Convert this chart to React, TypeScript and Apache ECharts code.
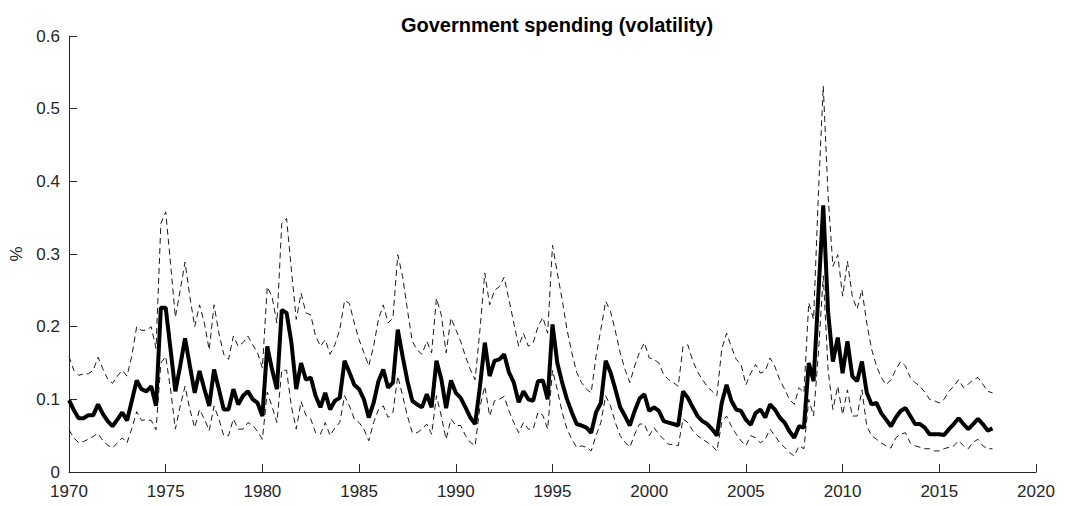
import React, { useEffect, useRef } from "react";
import * as echarts from "echarts";

// Quarterly estimates, 1970Q1 onward
const startYear = 1970;

const median = [
  0.099, 0.085, 0.074, 0.074, 0.078, 0.078, 0.093, 0.080,
  0.070, 0.063, 0.072, 0.082, 0.071, 0.098, 0.126, 0.114,
  0.111, 0.118, 0.091, 0.226, 0.226, 0.169, 0.111, 0.146,
  0.184, 0.146, 0.109, 0.139, 0.114, 0.091, 0.141, 0.114,
  0.086, 0.086, 0.114, 0.093, 0.105, 0.111, 0.100, 0.095,
  0.077, 0.173, 0.141, 0.114, 0.223, 0.219, 0.178, 0.114,
  0.150, 0.127, 0.130, 0.105, 0.089, 0.109, 0.086, 0.098,
  0.102, 0.153, 0.137, 0.120, 0.114, 0.100, 0.075, 0.095,
  0.125, 0.141, 0.116, 0.123, 0.196, 0.159, 0.125, 0.098,
  0.093, 0.089, 0.107, 0.089, 0.153, 0.128, 0.088, 0.126,
  0.109, 0.102, 0.089, 0.075, 0.066, 0.118, 0.178, 0.132,
  0.153, 0.155, 0.162, 0.137, 0.123, 0.096, 0.111, 0.100,
  0.098, 0.125, 0.126, 0.100, 0.203, 0.150, 0.123, 0.100,
  0.082, 0.066, 0.064, 0.061, 0.054, 0.082, 0.095, 0.153,
  0.137, 0.114, 0.089, 0.077, 0.064, 0.084, 0.101, 0.107,
  0.084, 0.089, 0.084, 0.070, 0.068, 0.066, 0.064, 0.111,
  0.102, 0.089, 0.077, 0.070, 0.066, 0.059, 0.050, 0.095,
  0.120, 0.098, 0.086, 0.084, 0.072, 0.065, 0.081, 0.086,
  0.075, 0.093, 0.086, 0.075, 0.068, 0.056, 0.047, 0.063,
  0.061, 0.150, 0.125, 0.246, 0.367, 0.220, 0.152, 0.185,
  0.136, 0.180, 0.132, 0.125, 0.152, 0.109, 0.093, 0.095,
  0.081, 0.072, 0.063, 0.075, 0.084, 0.088, 0.077, 0.066,
  0.066, 0.061, 0.052, 0.052, 0.052, 0.051, 0.059, 0.066,
  0.074, 0.066, 0.059, 0.066, 0.073, 0.066, 0.057, 0.060,
];

const upperBand = [
  0.159, 0.140, 0.133, 0.135, 0.135, 0.140, 0.158, 0.142,
  0.128, 0.122, 0.132, 0.140, 0.132, 0.160, 0.200, 0.195,
  0.195, 0.200, 0.170, 0.342, 0.358, 0.287, 0.213, 0.250,
  0.289, 0.241, 0.200, 0.230, 0.205, 0.168, 0.230, 0.191,
  0.162, 0.155, 0.187, 0.173, 0.178, 0.187, 0.175, 0.164,
  0.143, 0.255, 0.241, 0.205, 0.342, 0.349, 0.278, 0.210,
  0.246, 0.219, 0.216, 0.187, 0.173, 0.182, 0.162, 0.175,
  0.196, 0.236, 0.232, 0.205, 0.182, 0.164, 0.146, 0.173,
  0.210, 0.230, 0.205, 0.212, 0.299, 0.269, 0.223, 0.180,
  0.168, 0.162, 0.180, 0.164, 0.239, 0.216, 0.164, 0.212,
  0.196, 0.180, 0.159, 0.141, 0.127, 0.196, 0.274, 0.230,
  0.250, 0.255, 0.268, 0.237, 0.205, 0.173, 0.191, 0.173,
  0.178, 0.200, 0.213, 0.191, 0.312, 0.274, 0.237, 0.196,
  0.164, 0.137, 0.123, 0.114, 0.109, 0.159, 0.196, 0.235,
  0.221, 0.194, 0.164, 0.141, 0.123, 0.146, 0.165, 0.178,
  0.157, 0.155, 0.150, 0.134, 0.127, 0.123, 0.118, 0.173,
  0.175, 0.153, 0.138, 0.127, 0.118, 0.111, 0.105, 0.169,
  0.191, 0.172, 0.155, 0.148, 0.120, 0.136, 0.148, 0.136,
  0.139, 0.157, 0.145, 0.127, 0.114, 0.100, 0.093, 0.116,
  0.109, 0.233, 0.210, 0.384, 0.531, 0.380, 0.283, 0.299,
  0.242, 0.290, 0.242, 0.224, 0.251, 0.205, 0.169, 0.146,
  0.130, 0.120, 0.127, 0.141, 0.152, 0.146, 0.130, 0.123,
  0.118, 0.110, 0.100, 0.098, 0.095, 0.100, 0.111, 0.118,
  0.127, 0.116, 0.121, 0.127, 0.130, 0.121, 0.111, 0.109,
];

const lowerBand = [
  0.058, 0.047, 0.040, 0.042, 0.045, 0.049, 0.053, 0.043,
  0.037, 0.033, 0.040, 0.047, 0.040, 0.060, 0.083, 0.071,
  0.072, 0.071, 0.058, 0.150, 0.159, 0.114, 0.059, 0.091,
  0.118, 0.086, 0.061, 0.086, 0.073, 0.057, 0.091, 0.073,
  0.050, 0.050, 0.073, 0.059, 0.059, 0.068, 0.064, 0.056,
  0.045, 0.110, 0.090, 0.068, 0.140, 0.140, 0.090, 0.059,
  0.097, 0.078, 0.073, 0.054, 0.052, 0.068, 0.050, 0.061,
  0.068, 0.105, 0.091, 0.073, 0.068, 0.059, 0.043, 0.068,
  0.086, 0.091, 0.075, 0.082, 0.132, 0.105, 0.077, 0.054,
  0.054, 0.059, 0.066, 0.052, 0.105, 0.077, 0.045, 0.073,
  0.064, 0.064, 0.050, 0.041, 0.036, 0.090, 0.118, 0.077,
  0.098, 0.100, 0.104, 0.084, 0.068, 0.054, 0.068, 0.059,
  0.059, 0.082, 0.078, 0.059, 0.140, 0.113, 0.082, 0.059,
  0.045, 0.034, 0.036, 0.034, 0.029, 0.050, 0.068, 0.105,
  0.091, 0.068, 0.050, 0.041, 0.034, 0.052, 0.066, 0.066,
  0.050, 0.061, 0.052, 0.045, 0.038, 0.038, 0.036, 0.073,
  0.068, 0.057, 0.050, 0.045, 0.041, 0.036, 0.029, 0.068,
  0.077, 0.063, 0.052, 0.043, 0.036, 0.050, 0.047, 0.040,
  0.045, 0.059, 0.050, 0.040, 0.034, 0.027, 0.022, 0.036,
  0.032, 0.100, 0.077, 0.164, 0.270, 0.140, 0.086, 0.118,
  0.079, 0.113, 0.077, 0.077, 0.113, 0.063, 0.050, 0.045,
  0.040, 0.036, 0.033, 0.047, 0.052, 0.054, 0.040, 0.036,
  0.034, 0.032, 0.032, 0.029, 0.029, 0.032, 0.034, 0.036,
  0.043, 0.036, 0.032, 0.041, 0.045, 0.036, 0.032, 0.032,
];

const FONT = '"Liberation Sans", Arial, Helvetica, sans-serif';
const AXIS_COLOR = "#262626";

const toPairs = (vals: number[]) =>
  vals.map((v, i) => [startYear + i * 0.25, v]);

export default function App() {
  const ref = useRef<HTMLDivElement>(null);

  useEffect(() => {
    if (!ref.current) return;
    const chart = echarts.init(ref.current, undefined, { renderer: "svg" });

    const dashed = {
      type: "line",
      showSymbol: false,
      symbol: "none",
      lineStyle: { color: "#1a1a1a", width: 1, type: [6, 4] },
      z: 2,
    };

    chart.setOption({
      animation: false,
      backgroundColor: "#ffffff",
      title: {
        text: "Government spending (volatility)",
        left: 552,
        textAlign: "center",
        top: 10,
        textStyle: {
          fontFamily: FONT,
          fontSize: 20,
          fontWeight: "bold",
          color: "#000",
        },
      },
      grid: {
        left: 69,
        right: 29,
        top: 36,
        bottom: 34,
        containLabel: false,
        outerBoundsMode: "none",
      },
      xAxis: {
        type: "value",
        min: 1970,
        max: 2020,
        interval: 5,
        axisLine: { show: true, lineStyle: { color: AXIS_COLOR, width: 1 } },
        axisTick: { show: true, inside: true, length: 8, lineStyle: { color: AXIS_COLOR } },
        axisLabel: {
          color: AXIS_COLOR,
          fontFamily: FONT,
          fontSize: 17,
          margin: 11,
          formatter: (v: number) => String(Math.round(v)),
        },
        splitLine: { show: false },
      },
      yAxis: {
        type: "value",
        min: 0,
        max: 0.6,
        interval: 0.1,
        name: "%",
        nameLocation: "middle",
        nameRotate: 90,
        nameGap: 44,
        nameTextStyle: { color: AXIS_COLOR, fontFamily: FONT, fontSize: 17 },
        axisLine: { show: true, lineStyle: { color: AXIS_COLOR, width: 1 } },
        axisTick: { show: true, inside: true, length: 8, lineStyle: { color: AXIS_COLOR } },
        axisLabel: {
          color: AXIS_COLOR,
          fontFamily: FONT,
          fontSize: 17,
          margin: 9,
          formatter: (v: number) => String(+v.toFixed(1)),
        },
        splitLine: { show: false },
      },
      series: [
        { ...dashed, name: "upper", data: toPairs(upperBand) },
        { ...dashed, name: "lower", data: toPairs(lowerBand) },
        {
          type: "line",
          name: "median",
          showSymbol: false,
          symbol: "none",
          data: toPairs(median),
          lineStyle: { color: "#000", width: 4 },
          z: 3,
        },
      ],
    });

    return () => chart.dispose();
  }, []);

  return (
    <div
      ref={ref}
      style={{
        position: "fixed",
        left: 0,
        top: 0,
        width: 1065,
        height: 506,
        background: "#fff",
      }}
    />
  );
}
